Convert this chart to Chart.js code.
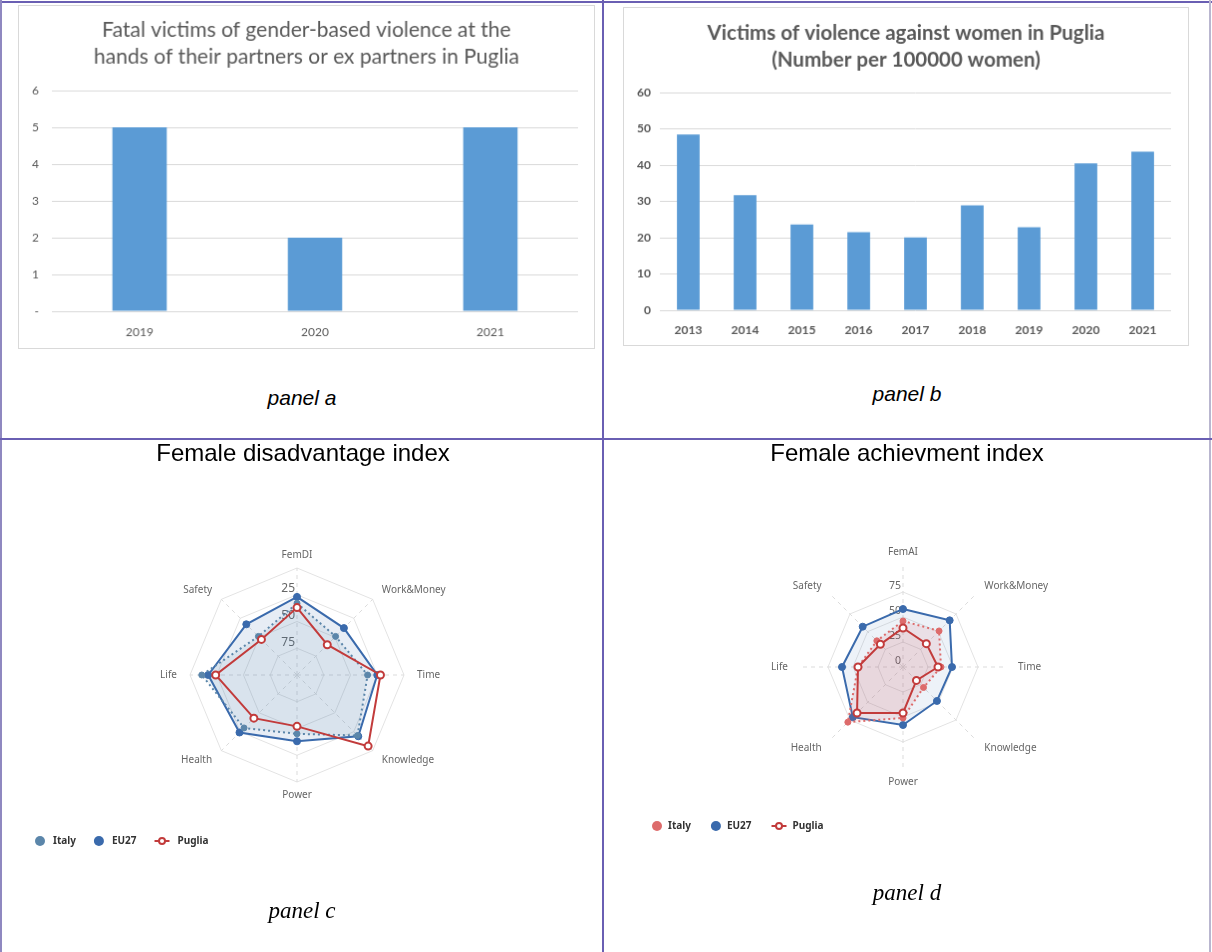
<!DOCTYPE html>
<html>
<head>
<meta charset="utf-8">
<script src="https://cdn.jsdelivr.net/npm/chart.js@4.4.1/dist/chart.umd.min.js"></script>
<style>
  html, body { margin: 0; padding: 0; background: #fff; }
  #page { position: relative; width: 1212px; height: 952px; overflow: hidden; background: #fff; }
  .rule { position: absolute; background: #6a5fb3; }
  .abs { position: absolute; }
  .caption { position: absolute; text-align: center; color: #000; white-space: nowrap; }
  canvas.boxed { border: 1px solid #d9d9d9; }
</style>
</head>
<body>
<div id="page">
  <!-- table rules -->
  <div class="rule" style="left:0;top:1px;width:1212px;height:2px;"></div>
  <div class="rule" style="left:0;top:0;width:2px;height:952px;background:#8f88c0;"></div>
  <div class="rule" style="left:1209px;top:0;width:2px;height:952px;background:#b9b6cf;"></div>
  <div class="rule" style="left:602px;top:0;width:2px;height:952px;"></div>
  <div class="rule" style="left:0;top:438px;width:1212px;height:2px;"></div>

  <canvas id="chartA" class="abs boxed" width="577" height="344" style="left:18px;top:5px;"></canvas>
  <canvas id="chartB" class="abs boxed" width="566" height="339" style="left:623px;top:7px;"></canvas>
  <canvas id="chartC" class="abs" width="600" height="510" style="left:2px;top:440px;"></canvas>
  <canvas id="chartD" class="abs" width="606" height="510" style="left:604px;top:440px;"></canvas>

  <div class="caption" style="left:2px;width:600px;top:386px;height:24px;line-height:24px;font:italic 21px 'Liberation Sans', Arial, sans-serif;">panel a</div>
  <div class="caption" style="left:604px;width:606px;top:382px;height:24px;line-height:24px;font:italic 21px 'Liberation Sans', Arial, sans-serif;">panel b</div>
  <div class="caption" style="left:3px;width:600px;top:439px;height:28px;line-height:28px;font:24px 'Liberation Sans', Arial, sans-serif;">Female disadvantage index</div>
  <div class="caption" style="left:604px;width:606px;top:439px;height:28px;line-height:28px;font:24px 'Liberation Sans', Arial, sans-serif;">Female achievment index</div>
  <div class="caption" style="left:2px;width:600px;top:898px;height:28px;line-height:28px;font:italic 23px 'Liberation Serif', 'Times New Roman', serif;">panel c</div>
  <div class="caption" style="left:604px;width:606px;top:880px;height:28px;line-height:28px;font:italic 23px 'Liberation Serif', 'Times New Roman', serif;">panel d</div>
</div>

<script>
// ---- data ----
const fatalYears = ['2019', '2020', '2021'];
const fatalVictims = [5, 2, 5];
const fatalTickLabels = ['-', '1', '2', '3', '4', '5', '6'];

const violenceYears = ['2013', '2014', '2015', '2016', '2017', '2018', '2019', '2020', '2021'];
const violenceRates = [48.4, 31.7, 23.6, 21.5, 20.1, 28.9, 22.9, 40.5, 43.7];

const disadvantageAxes = ['FemDI', 'Work&Money', 'Time', 'Knowledge', 'Power', 'Health', 'Life', 'Safety'];
const disadvantageItaly = [33, 49, 34, 20, 45, 30, 11, 49];
const disadvantageEU27 = [27, 38, 25, 19, 38, 24, 17, 33];
const disadvantagePuglia = [37, 60, 22, 6, 52, 43, 24, 53];
const disadvantageTicks = [25, 50, 75];

const achievementAxes = ['FemAI', 'Work&Money', 'Time', 'Knowledge', 'Power', 'Health', 'Life', 'Safety'];
const achievementItaly = [46, 51, 38, 29, 51, 78, 45, 37];
const achievementEU27 = [58, 66, 49, 48, 58, 71, 61, 57];
const achievementPuglia = [39, 33, 35, 19, 46, 65, 45, 32];
const achievementTicks = [0, 25, 50, 75];

const seriesNames = ['Italy', 'EU27', 'Puglia'];

// ---- shared styles ----
const excelGrey = '#595959';
const excelBlue = '#5b9bd5';
const euBlue = '#3a6aac';
const pugliaRed = '#c23b3b';

// axis names, value labels and series key for the radar charts
const radarDecor = {
  id: 'radarDecor',
  beforeDatasetsDraw(chart, args, opts) {
    const s = chart.scales.r;
    const ctx = chart.ctx;
    ctx.save();
    ctx.font = opts.tickFont;
    ctx.fillStyle = '#666';
    ctx.textAlign = 'right';
    ctx.textBaseline = 'middle';
    opts.ticks.forEach(v => {
      const d = s.getDistanceFromCenterForValue(v);
      ctx.fillText(String(v), s.xCenter - 2, s.yCenter - d - 6);
    });
    ctx.font = '10px "Noto Sans", sans-serif';
    ctx.fillStyle = '#666';
    chart.data.labels.forEach((txt, i) => {
      const p = s.getPointPosition(i, opts.labelDistance);
      const dx = p.x - s.xCenter;
      ctx.textAlign = Math.abs(dx) < 2 ? 'center' : (dx > 0 ? 'left' : 'right');
      ctx.fillText(txt, p.x, p.y);
    });
    ctx.restore();
  },
  afterDraw(chart, args, opts) {
    const ctx = chart.ctx;
    ctx.save();
    ctx.font = 'bold 10px "Noto Sans", sans-serif';
    ctx.textBaseline = 'middle';
    ctx.textAlign = 'left';
    let x = opts.legendX;
    const y = opts.legendY;
    chart.data.datasets.forEach(ds => {
      if (ds.legendSymbol === 'line') {
        ctx.strokeStyle = ds.borderColor;
        ctx.lineWidth = 2;
        ctx.setLineDash([]);
        ctx.beginPath();
        ctx.moveTo(x, y);
        ctx.lineTo(x + 15, y);
        ctx.stroke();
        ctx.beginPath();
        ctx.arc(x + 7.5, y, 3, 0, Math.PI * 2);
        ctx.fillStyle = '#fff';
        ctx.fill();
        ctx.stroke();
        x += 15;
      } else {
        ctx.beginPath();
        ctx.arc(x + 5, y, 5, 0, Math.PI * 2);
        ctx.fillStyle = ds.pointBackgroundColor;
        ctx.fill();
        x += 10;
      }
      x += opts.symbolGap;
      ctx.fillStyle = '#333';
      ctx.fillText(ds.label, x, y + 0.5);
      x += ctx.measureText(ds.label).width + opts.itemGap;
    });
    ctx.restore();
  }
};

function excelBar(canvasId, labels, values, title, bold, barPct, yMax, tickFn, dims) {
  const tickFont = { family: 'Lato', size: 12, weight: bold ? 'bold' : 'normal' };
  return new Chart(document.getElementById(canvasId), {
    type: 'bar',
    data: {
      labels: labels,
      datasets: [{
        data: values,
        backgroundColor: excelBlue,
        categoryPercentage: 1,
        barPercentage: barPct
      }]
    },
    options: {
      responsive: false,
      animation: false,
      layout: { padding: 0 },
      plugins: {
        legend: { display: false },
        tooltip: { enabled: false },
        title: {
          display: true,
          text: title,
          color: excelGrey,
          font: { family: 'Lato', size: dims.titleSize, weight: bold ? 'bold' : 'normal', lineHeight: '27px' },
          padding: { top: dims.titleTop, bottom: dims.titleBottom }
        }
      },
      scales: {
        x: {
          grid: { display: false },
          border: { display: false },
          ticks: { color: excelGrey, font: tickFont, padding: dims.xPad, maxRotation: 0 },
          afterFit(s) { s.height = dims.xHeight; }
        },
        y: {
          min: 0,
          max: yMax,
          ticks: { stepSize: yMax / 6, color: excelGrey, font: tickFont, padding: dims.yPad, callback: tickFn },
          grid: { color: '#d9d9d9', drawTicks: false },
          border: { display: false },
          afterFit(s) { s.width = dims.yWidth; }
        },
        // empty right-hand margin of the plot area
        yRight: {
          position: 'right',
          grid: { display: false },
          border: { display: false },
          ticks: { display: false },
          afterFit(s) { s.width = dims.right; }
        }
      }
    }
  });
}

excelBar('chartA', fatalYears, fatalVictims,
  ['Fatal victims of gender-based violence at the', 'hands of their partners or ex partners in Puglia'],
  false, 0.31, 6, v => fatalTickLabels[v],
  { titleSize: 21, right: 16, titleTop: 11, titleBottom: 20, xPad: 6, xHeight: 37, yPad: 13, yWidth: 33 });

excelBar('chartB', violenceYears, violenceRates,
  ['Victims of violence against women in Puglia', '(Number per 100000 women)'],
  true, 0.4, 60, v => String(v),
  { titleSize: 20.5, right: 17, titleTop: 12, titleBottom: 19, xPad: 5, xHeight: 35, yPad: 9, yWidth: 36 });

function radar(canvasId, axes, italy, eu, puglia, italyColor, italyFill, euFill, pugliaFill, reverse, max, decor, pad) {
  return new Chart(document.getElementById(canvasId), {
    type: 'radar',
    data: {
      labels: axes,
      datasets: [
        {
          label: seriesNames[0], data: italy, order: 1,
          borderColor: italyColor, borderWidth: 2, borderDash: [2, 3],
          pointBackgroundColor: italyColor, pointBorderColor: italyColor, pointRadius: 3, pointBorderWidth: 1,
          backgroundColor: italyFill, fill: 'start', clip: false
        },
        {
          label: seriesNames[1], data: eu, order: 2,
          borderColor: euBlue, borderWidth: 2,
          pointBackgroundColor: euBlue, pointBorderColor: euBlue, pointRadius: 3.5, pointBorderWidth: 1,
          backgroundColor: euFill, fill: 'start', clip: false
        },
        {
          label: seriesNames[2], data: puglia, order: 0, legendSymbol: 'line',
          borderColor: pugliaRed, borderWidth: 2,
          pointBackgroundColor: '#ffffff', pointBorderColor: pugliaRed, pointRadius: 3.5, pointBorderWidth: 2,
          backgroundColor: pugliaFill, fill: pugliaFill ? 'start' : false, clip: false
        }
      ]
    },
    options: {
      responsive: false,
      animation: false,
      layout: { padding: pad },
      elements: { line: { tension: 0 } },
      plugins: { legend: { display: false }, tooltip: { enabled: false }, radarDecor: decor },
      scales: {
        r: {
          min: 0,
          max: max,
          reverse: reverse,
          ticks: { display: false, stepSize: 25 },
          pointLabels: { display: false },
          grid: { color: ctx => (ctx.tick && ctx.tick.value === 100 && !reverse) ? 'rgba(0,0,0,0)' : '#e3e3e3', lineWidth: 1 },
          angleLines: { color: '#dcdcdc', borderDash: [4, 4], lineWidth: 1 }
        }
      }
    },
    plugins: [radarDecor]
  });
}

radar('chartC', disadvantageAxes, disadvantageItaly, disadvantageEU27, disadvantagePuglia,
  '#5b86aa', 'rgba(91,134,170,0.10)', 'rgba(58,106,172,0.12)', null, true, 100,
  { ticks: disadvantageTicks, tickFont: '12px "Noto Sans", sans-serif', labelDistance: 120,
    legendX: 33, legendY: 401, symbolGap: 8, itemGap: 18 },
  { left: 188, right: 198, top: 128, bottom: 168 });

radar('chartD', achievementAxes, achievementItaly, achievementEU27, achievementPuglia,
  '#dd6b6b', 'rgba(210,90,100,0.12)', 'rgba(58,106,172,0.09)', 'rgba(194,59,59,0.05)', false, 100,
  { ticks: achievementTicks, tickFont: '10.5px "Noto Sans", sans-serif', labelDistance: 115,
    legendX: 48, legendY: 386, symbolGap: 6, itemGap: 20 },
  { left: 199, right: 207, top: 127, bottom: 183 });
</script>
</body>
</html>
